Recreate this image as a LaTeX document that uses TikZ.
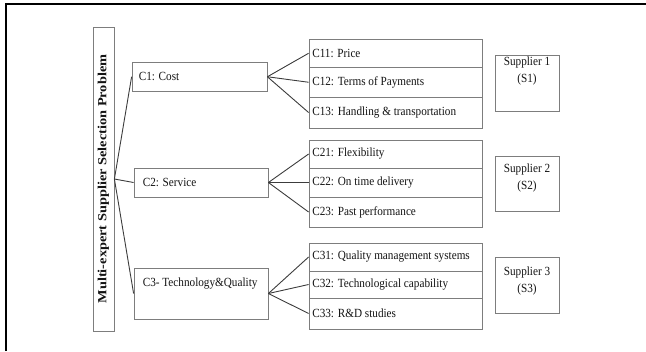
\documentclass[tikz,border=0pt]{standalone}
\usepackage{fontspec}
\setmainfont{Liberation Serif}[FakeStretch=0.9]
\usepackage{graphicx}
\definecolor{boxgray}{RGB}{125,125,125}
\definecolor{linkgray}{RGB}{60,60,60}
\definecolor{txtcol}{RGB}{20,20,20}
\begin{document}
\begin{tikzpicture}[x=1bp,y=-1bp]
\tikzset{
  frame/.style={line width=2.3bp, black, line join=miter},
  box/.style={draw=boxgray, line width=0.8bp, inner sep=0pt, fill=white},
  txt/.style={inner sep=0pt, text=txtcol, font=\fontsize{12.5}{17}\selectfont},
  link/.style={draw=linkgray, line width=0.9bp},
}
\useasboundingbox (0,0) rectangle (646,351);
\draw[frame] (6.2,351) -- (6.2,4.3) -- (646,4.3);

% title
\node[box, rotate=90, minimum width=304bp, minimum height=21bp] (title) at (103.5,179)
  {\scalebox{1}[0.78]{\color{txtcol}\bfseries\fontsize{16}{18}\selectfont Multi-expert Supplier Selection Problem}};

% criteria
\node[box, minimum width=135bp, minimum height=28.5bp] (c1) at (199.5,76.75) {};
\node[box, minimum width=134bp, minimum height=29bp] (c2) at (201,182.5) {};
\node[box, minimum width=134bp, minimum height=51bp] (c3) at (201,293.5) {};
\node[txt, anchor=west] (c1t) at ([xshift=7bp]c1.west) {C1: Cost};
\node[txt, anchor=west] (c2t) at ([xshift=9bp]c2.west) {C2: Service};
\node[txt, anchor=west] (c3t) at ([xshift=9bp,yshift=10bp]c3.west) {C3- Technology\&Quality};

% sub-criteria
\foreach \n/\y/\h/\t in {c11/53.25/28.5/{C11: Price}, c12/82.25/29.5/{C12: Terms of Payments}, c13/112.5/31/{C13: Handling \& transportation},
  c21/154/28/{C21: Flexibility}, c22/182.5/29/{C22: On time delivery}, c23/212/30/{C23: Past performance},
  c31/257/28/{C31: Quality management systems}, c32/284.5/27/{C32: Technological capability}, c33/313.5/31/{C33: R\&D studies}}{
  \node[box, minimum width=173bp, minimum height=\h bp] (\n) at (395.5,\y) {};
  \node[txt, anchor=west] (\n t) at ([xshift=3.5bp]\n.west) {\t};
}

% suppliers
\node[box, minimum width=64bp, minimum height=56bp] (s1) at (527,83) {};
\node[box, minimum width=64bp, minimum height=55bp] (s2) at (527,183.5) {};
\node[box, minimum width=64bp, minimum height=56bp] (s3) at (527,285) {};
\node[txt, align=center] (s1t) at (527,71) {Supplier 1\\(S1)};
\node[txt, align=center] (s2t) at (527,178) {Supplier 2\\(S2)};
\node[txt, align=center] (s3t) at (527,281) {Supplier 3\\(S3)};

% connectors
\draw[link] (title.south) -- (c1.west);
\draw[link] (title.south) -- (c2.west);
\draw[link] (title.south) -- (c3.west);
\foreach \p/\a/\b/\c in {c1/c11/c12/c13, c2/c21/c22/c23, c3/c31/c32/c33}{
  \draw[link] (\p.east) -- (\a.west);
  \draw[link] (\p.east) -- (\b.west);
  \draw[link] (\p.east) -- (\c.west);
}
\end{tikzpicture}
\end{document}
